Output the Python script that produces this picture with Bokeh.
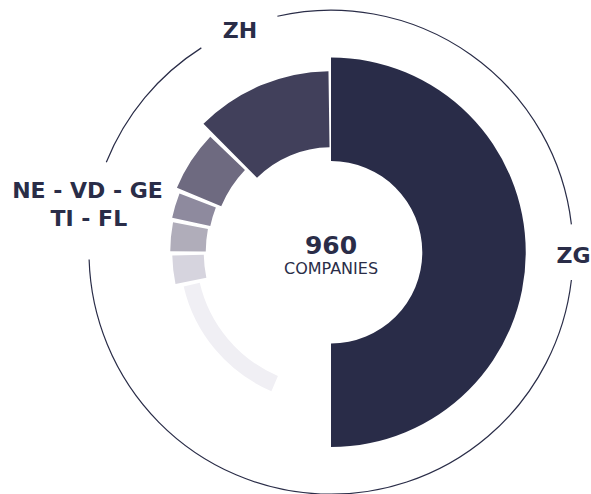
import math
from bokeh.plotting import figure
from bokeh.models import Range1d, ColumnDataSource
from bokeh.core.properties import value
from bokeh.embed import file_html
from bokeh.resources import INLINE

# ---- data ----
cantons = ["ZG", "ZH", "NE", "VD", "GE", "TI", "FL"]
span_deg = [180.0, 44.0, 21.0, 9.0, 10.4, 10.4, 53.7]      # angular share of each segment
depth = [103.5, 76.0, 48.0, 39.0, 35.5, 31.5, 16.5]         # radial depth of each segment
colors = ["#292c48", "#41405b", "#6e6a80", "#8e8a9e", "#b0adba", "#d6d4de", "#f0eff4"]
total_label = "960"
total_sub = "COMPANIES"
label_texts = ["ZH", "NE - VD - GE", "TI - FL", "ZG"]

# ---- layout constants ----
W, H = 591, 494
CX, CY = 330.5, 251.7          # centre in figure pixels (from left / from top)
MID_R = 143.0
GAP_DEG = 1.5
RING_R = 242.0
INK = "#2a2d48"

p = figure(width=W, height=H, output_backend="svg", toolbar_location=None,
           x_range=Range1d(-CX, W - CX), y_range=Range1d(-(H - CY), CY),
           min_border=0, background_fill_color="white", border_fill_color="white")
p.axis.visible = False
p.grid.visible = False
p.outline_line_color = None

# segments: ZG from -90 to 90, others counter-clockwise after it
starts, ends, inner, outer = [], [], [], []
a = -90.0
for i, s in enumerate(span_deg):
    st = a
    en = a + s
    starts.append(math.radians(st))
    ends.append(math.radians(en))
    inner.append(MID_R - depth[i] / 2)
    outer.append(MID_R + depth[i] / 2)
    a = en + (GAP_DEG if i > 0 else 0.8)

src = ColumnDataSource(dict(x=[0] * len(cantons), y=[0] * len(cantons), ir=inner, orr=outer,
                            sa=starts, ea=ends, c=colors, name=cantons))
p.annular_wedge(x="x", y="y", inner_radius="ir", outer_radius="orr",
                start_angle="sa", end_angle="ea", direction="anticlock",
                fill_color="c", line_color=None, source=src)

# thin outer ring with gaps for labels
ring_parts = [(6.6, 102.8), (122.4, 158.2), (181.75, 353.4)]
p.arc(x=[0] * 3, y=[0] * 3, radius=RING_R,
      start_angle=[math.radians(s) for s, e in ring_parts],
      end_angle=[math.radians(e) for s, e in ring_parts],
      direction="anticlock", line_color=INK, line_width=1.2)

def to_data(sx, sy):
    return sx - CX, CY - sy

# labels (screen x centre, cap-centre y)
lab_pos = [(239.5, 29.5), (87.0, 190.0), (88.3, 218.3), (573.0, 254.5)]
xs, ys = zip(*[to_data(*q) for q in lab_pos])
p.text(x=list(xs), y=list(ys), text=label_texts, text_align="center",
       text_baseline="middle", text_font=value("DejaVu Sans"),
       text_font_style="bold", text_font_size="22px", text_color=INK)

tx, ty = to_data(330.5, 244.2)
p.text(x=[tx], y=[ty], text=[total_label], text_align="center", text_baseline="middle",
       text_font=value("DejaVu Sans"), text_font_style="bold", text_font_size="25px",
       text_color=INK)
sx, sy = to_data(330.5, 267.5)
p.text(x=[sx], y=[sy], text=[total_sub], text_align="center", text_baseline="middle",
       text_font=value("DejaVu Sans"), text_font_size="16px", text_color=INK)

open("out.html", "w").write(file_html(p, INLINE))
